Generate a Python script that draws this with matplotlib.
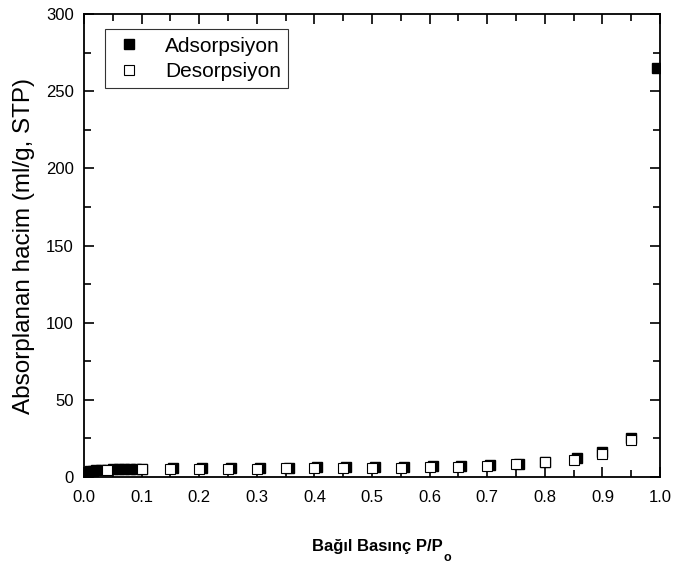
import numpy as np
import matplotlib.pyplot as plt
from matplotlib.ticker import MultipleLocator

plt.rcParams['font.family'] = ['Liberation Sans', 'DejaVu Sans']

# adsorption branch
ads_p = [0.003, 0.006, 0.01, 0.015, 0.02, 0.03, 0.04, 0.05, 0.06, 0.07, 0.08, 0.09, 0.1,
         0.155, 0.205, 0.255, 0.305, 0.355, 0.405, 0.455, 0.505, 0.555, 0.605,
         0.655, 0.705, 0.755, 0.80, 0.855, 0.90, 0.95, 0.995]
ads_v = [3.0, 3.5, 3.8, 4.1, 4.3, 4.6, 4.8, 5.0, 5.1, 5.2, 5.3, 5.4, 5.5,
         5.6, 5.8, 5.9, 6.0, 6.1, 6.2, 6.4, 6.5, 6.7, 6.9,
         7.3, 8.0, 8.6, 9.5, 12.0, 16.0, 25.5, 265.0]

# desorption branch
des_p = [0.04, 0.1, 0.15, 0.2, 0.25, 0.3, 0.35, 0.4, 0.45, 0.5, 0.55, 0.6,
         0.65, 0.7, 0.75, 0.8, 0.85, 0.9, 0.95]
des_v = [4.8, 5.0, 5.2, 5.3, 5.4, 5.5, 5.6, 5.7, 5.8, 5.9, 6.0, 6.2,
         6.6, 7.2, 8.2, 9.5, 11.2, 15.0, 24.0]

fig = plt.figure(figsize=(6.73, 5.67), dpi=100)
ax = fig.add_axes([0.1248, 0.1587, 0.856, 0.8166])

ax.plot(ads_p, ads_v, 's', color='black', markersize=7, linestyle='none',
        label='Adsorpsiyon', zorder=2)
ax.plot(des_p, des_v, 's', markerfacecolor='white', markeredgecolor='black',
        markeredgewidth=0.8, markersize=7, linestyle='none',
        label='Desorpsiyon', zorder=3)

ax.set_xlim(0, 1.0)
ax.set_ylim(0, 300)
ax.xaxis.set_major_locator(MultipleLocator(0.1))
ax.xaxis.set_minor_locator(MultipleLocator(0.05))
ax.yaxis.set_major_locator(MultipleLocator(50))
ax.yaxis.set_minor_locator(MultipleLocator(25))
ax.xaxis.set_major_formatter(plt.FuncFormatter(lambda v, p: f'{v:.1f}'))

ax.tick_params(which='both', direction='in', top=True, right=True, labelsize=12)
ax.tick_params(which='major', length=7, width=1.2)
ax.tick_params(which='minor', length=5, width=1.2)
ax.tick_params(axis='x', pad=9)
ax.tick_params(axis='y', pad=7.5)
for s in ax.spines.values():
    s.set_linewidth(1.3)

ax.set_ylabel('Absorplanan hacim (ml/g, STP)', fontsize=17.5, labelpad=8)

# x label with a low subscript "o"
xl = fig.text(0.561, 0.028, 'Bağıl Basınç P/P', fontsize=12, fontweight='bold',
              ha='center', va='baseline')
fig.canvas.draw()
bb = xl.get_window_extent().transformed(fig.transFigure.inverted())
fig.text(bb.x1 + 0.001, 0.026, 'o', fontsize=9, fontweight='bold',
         ha='left', va='top')

leg = ax.legend(loc='upper left', bbox_to_anchor=(0.036, 0.967), fontsize=15,
                frameon=True, fancybox=False, edgecolor='black',
                handletextpad=0.95, borderpad=0.35, markerscale=0.95,
                labelspacing=0.3, borderaxespad=0, handlelength=1.6)
leg.get_frame().set_linewidth(0.8)

plt.savefig('out.png', dpi=100)
